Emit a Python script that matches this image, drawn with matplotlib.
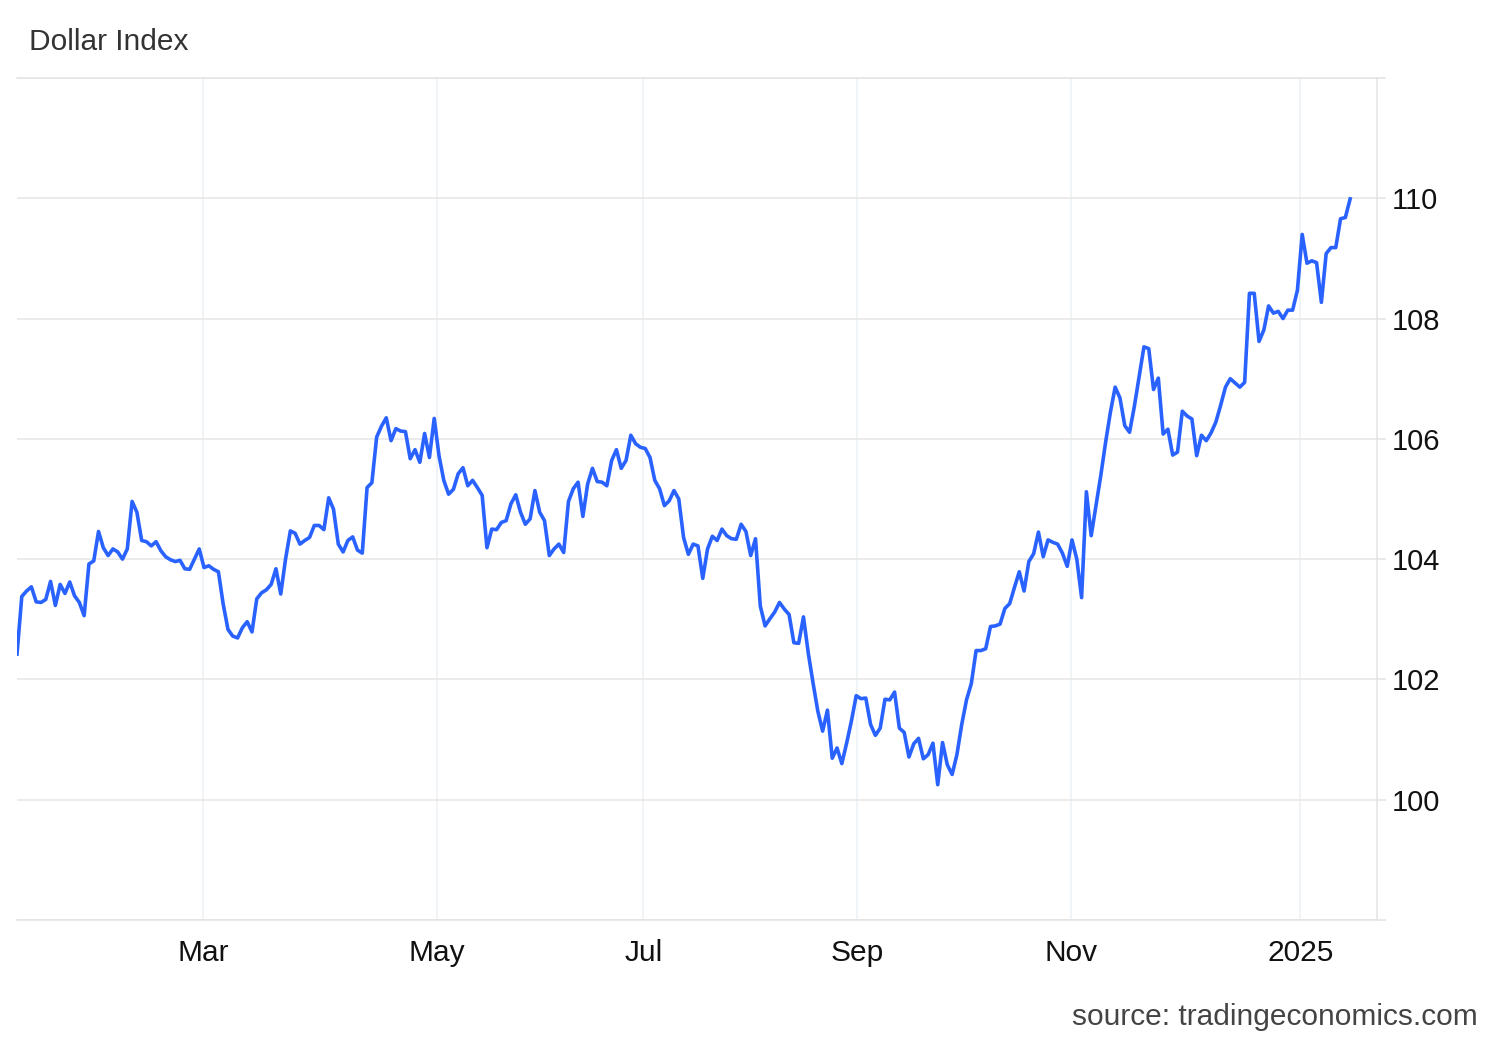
import matplotlib
matplotlib.use("Agg")
import matplotlib.pyplot as plt

plt.rcParams['font.family'] = ['Liberation Sans', 'DejaVu Sans']

# daily closes, Jan 2024 -> Jan 2025
dxy = [
    102.42, 103.38, 103.47, 103.54, 103.29, 103.28, 103.33, 103.63, 103.23, 103.58,
    103.43, 103.62, 103.39, 103.28, 103.06, 103.92, 103.97, 104.46, 104.19, 104.06,
    104.17, 104.12, 104.00, 104.17, 104.96, 104.78, 104.31, 104.29, 104.22, 104.29,
    104.14, 104.04, 103.99, 103.96, 103.98, 103.84, 103.83, 104.00, 104.17, 103.86,
    103.89, 103.83, 103.79, 103.25, 102.83, 102.72, 102.69, 102.86, 102.96, 102.79,
    103.34, 103.44, 103.49, 103.58, 103.84, 103.42, 104.00, 104.47, 104.43, 104.25,
    104.31, 104.36, 104.56, 104.56, 104.49, 105.02, 104.83, 104.25, 104.12, 104.31,
    104.37, 104.15, 104.10, 105.19, 105.27, 106.03, 106.21, 106.35, 105.97, 106.17,
    106.13, 106.12, 105.67, 105.82, 105.61, 106.09, 105.69, 106.34, 105.72, 105.31,
    105.08, 105.16, 105.42, 105.52, 105.22, 105.31, 105.19, 105.06, 104.19, 104.50,
    104.49, 104.61, 104.64, 104.92, 105.07, 104.78, 104.58, 104.67, 105.14, 104.78,
    104.64, 104.06, 104.17, 104.25, 104.11, 104.96, 105.17, 105.28, 104.71, 105.25,
    105.51, 105.29, 105.28, 105.22, 105.64, 105.82, 105.51, 105.64, 106.06, 105.92,
    105.86, 105.84, 105.69, 105.31, 105.17, 104.89, 104.97, 105.14, 105.00, 104.36,
    104.08, 104.25, 104.22, 103.68, 104.17, 104.38, 104.31, 104.50, 104.39, 104.34,
    104.33, 104.58, 104.46, 104.06, 104.34, 103.22, 102.89, 103.01, 103.12, 103.28,
    103.17, 103.08, 102.61, 102.60, 103.04, 102.44, 101.94, 101.47, 101.14, 101.49,
    100.69, 100.86, 100.60, 100.94, 101.31, 101.73, 101.68, 101.69, 101.25, 101.07,
    101.19, 101.67, 101.66, 101.79, 101.19, 101.12, 100.71, 100.93, 101.02, 100.68,
    100.75, 100.94, 100.25, 100.95, 100.58, 100.42, 100.75, 101.25, 101.66, 101.93,
    102.48, 102.48, 102.51, 102.88, 102.89, 102.92, 103.18, 103.26, 103.53, 103.79,
    103.47, 103.96, 104.09, 104.45, 104.04, 104.32, 104.28, 104.25, 104.10, 103.88,
    104.32, 104.00, 103.36, 105.12, 104.39, 104.89, 105.39, 105.94, 106.44, 106.86,
    106.68, 106.22, 106.11, 106.54, 107.03, 107.53, 107.50, 106.82, 107.01, 106.08,
    106.16, 105.73, 105.78, 106.46, 106.38, 106.33, 105.72, 106.06, 105.97, 106.10,
    106.28, 106.56, 106.86, 107.00, 106.93, 106.86, 106.94, 108.42, 108.42, 107.62,
    107.81, 108.21, 108.09, 108.12, 108.00, 108.14, 108.14, 108.47, 109.40, 108.92,
    108.96, 108.93, 108.27, 109.08, 109.18, 109.18, 109.66, 109.68, 109.99,
]

month_labels = ['Mar', 'May', 'Jul', 'Sep', 'Nov', '2025']
month_pos = [38.8, 87.6, 130.6, 175.2, 219.8, 267.6]   # point index where each label sits

ytick_vals = [98, 100, 102, 104, 106, 108, 110, 112]
ytick_labels = ['', '100', '102', '104', '106', '108', '110', '']

fig = plt.figure(figsize=(15, 10.4), dpi=100)
ax = fig.add_axes([17/1500, 1-920/1040, (1377-17)/1500, (920-78)/1040])

ax.plot(range(len(dxy)), dxy, color='#2962ff', lw=2.6, solid_joinstyle='round', zorder=3)

ax.set_xlim(0, 283.6)
ax.set_ylim(98, 112)

ax.yaxis.tick_right()
ax.set_yticks(ytick_vals)
ax.set_yticklabels(ytick_labels)
ax.set_xticks(month_pos)
ax.set_xticklabels(month_labels)

ax.tick_params(axis='y', length=6.5, width=1.1, color='#e3e3e3', pad=4,
               labelsize=21, labelcolor='#111111')
ax.tick_params(axis='x', length=0, pad=14, labelsize=21.5, labelcolor='#111111')

ax.set_axisbelow(True)
ax.grid(axis='y', color='#e6e6e6', lw=1.1)
ax.grid(axis='x', color='#eef1f5', lw=1.1)

ax.spines['left'].set_visible(False)
for s in ['top', 'bottom', 'right']:
    ax.spines[s].set_color('#e3e3e3')
    ax.spines[s].set_linewidth(1.1)

fig.text(29/1500, 1-50/1040, 'Dollar Index', fontsize=21.5, color='#333333',
         ha='left', va='baseline')
fig.text(1478/1500, 1-1025/1040, 'source: tradingeconomics.com', fontsize=21.5,
         color='#444444', ha='right', va='baseline')

fig.savefig('out.png', dpi=100, facecolor='white')
